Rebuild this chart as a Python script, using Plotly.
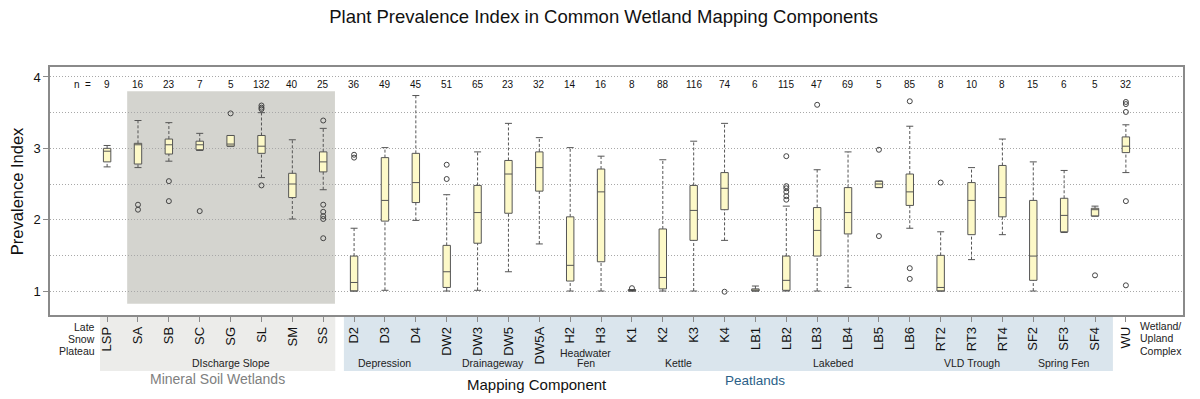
import plotly.graph_objects as go

# ---------------- data ----------------
categories = ["LSP", "SA", "SB", "SC", "SG", "SL", "SM", "SS",
              "D2", "D3", "D4", "DW2", "DW3", "DW5", "DW5A", "H2", "H3",
              "K1", "K2", "K3", "K4", "LB1", "LB2", "LB3", "LB4", "LB5", "LB6",
              "RT2", "RT3", "RT4", "SF2", "SF3", "SF4", "WU"]
n_counts = [9, 16, 23, 7, 5, 132, 40, 25,
            36, 49, 45, 51, 65, 23, 32, 14, 16,
            8, 88, 116, 74, 6, 115, 47, 69, 5, 85,
            8, 10, 8, 15, 6, 5, 32]
lower_whisker = [2.74, 2.73, 2.82, 2.97, 3.03, 2.59, 2.01, 2.42,
                 1.00, 1.01, 1.99, 1.00, 1.01, 1.27, 1.66, 1.00, 1.00,
                 1.00, 1.00, 1.00, 1.71, 1.00, 1.00, 1.00, 1.05, 2.45, 1.88,
                 1.00, 1.44, 1.79, 1.00, 1.82, 2.05, 2.66]
q1 = [2.81, 2.78, 2.92, 2.98, 3.03, 2.93, 2.31, 2.67,
      1.00, 1.98, 2.24, 1.05, 1.67, 2.09, 2.40, 1.14, 1.41,
      1.00, 1.03, 1.71, 2.14, 1.00, 1.01, 1.49, 1.80, 2.45, 2.20,
      1.00, 1.79, 2.04, 1.15, 1.83, 2.05, 2.94]
median = [2.96, 3.05, 3.05, 3.05, 3.06, 3.03, 2.50, 2.81,
          1.12, 2.27, 2.52, 1.27, 2.10, 2.64, 2.73, 1.36, 2.39,
          1.00, 1.19, 2.13, 2.44, 1.01, 1.15, 1.85, 2.10, 2.50, 2.39,
          1.05, 2.27, 2.31, 1.49, 2.06, 2.14, 3.03]
q3 = [3.00, 3.07, 3.13, 3.10, 3.18, 3.18, 2.65, 2.95,
      1.49, 2.87, 2.93, 1.64, 2.48, 2.83, 2.95, 2.04, 2.71,
      1.02, 1.87, 2.48, 2.66, 1.03, 1.49, 2.17, 2.45, 2.54, 2.64,
      1.50, 2.52, 2.76, 2.27, 2.30, 2.16, 3.16]
upper_whisker = [3.04, 3.39, 3.36, 3.21, 3.18, 3.50, 3.12, 3.28,
                 1.88, 3.01, 3.74, 2.35, 2.95, 3.35, 3.15, 3.01, 2.89,
                 1.02, 2.84, 3.10, 3.35, 1.07, 2.19, 2.70, 2.95, 2.54, 3.31,
                 1.83, 2.73, 3.13, 2.81, 2.69, 2.19, 3.33]
outliers = {
    "SA": [2.21, 2.14],
    "SB": [2.54, 2.26],
    "SC": [2.12],
    "SG": [3.49],
    "SL": [3.60, 3.57, 3.55, 2.48],
    "SS": [3.39, 2.21, 2.11, 2.05, 2.01, 1.74],
    "D2": [2.91, 2.87],
    "DW2": [2.77, 2.57],
    "K1": [1.04],
    "K4": [0.99],
    "LB2": [2.89, 2.47, 2.44, 2.39, 2.33, 2.28],
    "LB3": [3.61],
    "LB5": [2.98, 1.77],
    "LB6": [3.66, 1.32, 1.17],
    "RT2": [2.52],
    "SF4": [1.22],
    "WU": [3.65, 3.62, 3.51, 2.26, 1.08],
}
groups = [
    ("DIscharge Slope", ["SA", "SB", "SC", "SG", "SL", "SM", "SS"]),
    ("Depression", ["D2", "D3", "D4"]),
    ("Drainageway", ["DW2", "DW3", "DW5", "DW5A"]),
    ("Headwater<br>Fen", ["H2", "H3"]),
    ("Kettle", ["K1", "K2", "K3", "K4"]),
    ("Lakebed", ["LB1", "LB2", "LB3", "LB4", "LB5", "LB6"]),
    ("VLD Trough", ["RT2", "RT3", "RT4"]),
    ("Spring Fen", ["SF2", "SF3", "SF4"]),
]

# ---------------- styles ----------------
FONT = "Liberation Sans, Arial, sans-serif"
BOX_FILL = "#fdf9c8"
BOX_LINE = "#555555"
AX_LINE = "#8a8a8a"
GRID = "#a8a8a8"
SMALL = dict(size=10.5, color="#222", family=FONT)

fig = go.Figure()

# whiskers (dashed)
wx, wy = [], []
for c, lo, a, b, hi in zip(categories, lower_whisker, q1, q3, upper_whisker):
    wx += [c, c, None, c, c, None]
    wy += [b, hi, None, lo, a, None]
fig.add_trace(go.Scatter(x=wx, y=wy, mode="lines",
                         line=dict(color=BOX_LINE, width=1, dash="3px,2px"),
                         hoverinfo="skip", showlegend=False))

# whisker caps
fig.add_trace(go.Scatter(x=categories + categories, y=lower_whisker + upper_whisker,
                         mode="markers",
                         marker=dict(symbol="line-ew", size=5,
                                     line=dict(color=BOX_LINE, width=1)),
                         hoverinfo="skip", showlegend=False))

# boxes
fig.add_trace(go.Box(x=categories, q1=q1, median=median, q3=q3,
                     lowerfence=q1, upperfence=q3,
                     width=0.24, whiskerwidth=0, boxpoints=False,
                     fillcolor=BOX_FILL, line=dict(color=BOX_LINE, width=1),
                     hoverinfo="skip", showlegend=False))

# outliers
ox, oy = [], []
for c, vals in outliers.items():
    ox += [c] * len(vals)
    oy += vals
fig.add_trace(go.Scatter(x=ox, y=oy, mode="markers",
                         marker=dict(symbol="circle-open", size=5,
                                     color="#444444", line=dict(width=1)),
                         hoverinfo="skip", showlegend=False))

idx = {c: i for i, c in enumerate(categories)}

# shaded mineral-soil region inside the plot
fig.add_shape(type="rect", xref="x", yref="y", x0=0.65, x1=7.38, y0=0.82, y1=3.80,
              fillcolor="#d4d4cf", line=dict(width=0), layer="below")

# bands under the axis
fig.add_shape(type="rect", xref="x", yref="paper", x0=-0.23, x1=7.39, y0=-0.226, y1=0,
              fillcolor="#ececea", line=dict(width=0), layer="below")
fig.add_shape(type="rect", xref="x", yref="paper", x0=7.67, x1=32.58, y0=-0.226, y1=0,
              fillcolor="#dae5ed", line=dict(width=0), layer="below")

ann = []
# n = row
ann.append(dict(x=-0.79, y=3.90, xref="x", yref="y", text="n  =", showarrow=False,
                xanchor="center", yanchor="middle",
                font=dict(size=10, color="#111", family=FONT)))
for c, n in zip(categories, n_counts):
    ann.append(dict(x=idx[c], y=3.90, xref="x", yref="y", text=str(n), showarrow=False,
                    xanchor="center", yanchor="middle",
                    font=dict(size=10, color="#111", family=FONT)))

# group labels
for name, members in groups:
    xc = sum(idx[m] for m in members) / len(members)
    if "<br>" in name:
        top, bot = name.split("<br>")
        ann.append(dict(x=xc, y=-0.153, xref="x", yref="paper", text=top, showarrow=False,
                        xanchor="center", yanchor="middle", font=SMALL))
        ann.append(dict(x=xc, y=-0.194, xref="x", yref="paper", text=bot, showarrow=False,
                        xanchor="center", yanchor="middle", font=SMALL))
    else:
        ann.append(dict(x=xc, y=-0.194, xref="x", yref="paper", text=name, showarrow=False,
                        xanchor="center", yanchor="middle", font=SMALL))

for txt, yy in zip(["Late", "Snow", "Plateau"], [-0.048, -0.097, -0.145]):
    ann.append(dict(x=-0.32, y=yy, xref="x", yref="paper", text=txt, showarrow=False,
                    xanchor="right", yanchor="middle", font=SMALL))
for txt, yy in zip(["Wetland/", "Upland", "Complex"], [-0.044, -0.093, -0.145]):
    ann.append(dict(x=33.39, y=yy, xref="x", yref="paper", text=txt, showarrow=False,
                    xanchor="left", yanchor="middle", font=SMALL))

ann.append(dict(x=3.58, y=-0.258, xref="x", yref="paper", text="Mineral Soil Wetlands",
                showarrow=False, xanchor="center", yanchor="middle",
                font=dict(size=14, color="#808080", family=FONT)))
ann.append(dict(x=21.0, y=-0.266, xref="x", yref="paper", text="Peatlands",
                showarrow=False, xanchor="center", yanchor="middle",
                font=dict(size=13.5, color="#2b5f88", family=FONT)))
ann.append(dict(x=0.43, y=-0.282, xref="paper", yref="paper", text="Mapping Component",
                showarrow=False, xanchor="center", yanchor="middle",
                font=dict(size=15, color="#111", family=FONT)))
ann.append(dict(x=-0.029, y=0.5, xref="paper", yref="paper", text="Prevalence Index",
                textangle=-90, showarrow=False, xanchor="center", yanchor="middle",
                font=dict(size=16.5, color="#111", family=FONT)))

fig.update_layout(
    width=1200, height=399,
    margin=dict(l=50, r=17, t=67, b=84),
    paper_bgcolor="white", plot_bgcolor="white",
    font=dict(family=FONT, color="#111"),
    title=dict(text="Plant Prevalence Index in Common Wetland Mapping Components",
               x=0.503, xanchor="center", y=1 - 17 / 399, yanchor="middle",
               xref="container", yref="container",
               font=dict(size=18.5, color="#111", family=FONT)),
    annotations=ann,
    showlegend=False,
)
fig.update_xaxes(type="category", categoryorder="array", categoryarray=categories,
                 range=[-1.85, 34.85], showgrid=False, zeroline=False,
                 ticks="outside", ticklen=5, tickcolor=AX_LINE,
                 showline=True, linecolor=AX_LINE, linewidth=1.5, mirror=True,
                 tickangle=-90, tickfont=dict(size=13, color="#111", family=FONT))
fig.update_yaxes(range=[0.664, 4.14], tickvals=[1, 2, 3, 4], zeroline=False,
                 ticks="outside", ticklen=5, tickcolor=AX_LINE,
                 showline=True, linecolor=AX_LINE, linewidth=1.5, mirror=True,
                 showgrid=True, gridcolor=GRID, griddash="1px,2px", gridwidth=1,
                 minor=dict(tickvals=[1.5, 2.5, 3.5], showgrid=True, gridcolor=GRID,
                            griddash="1px,2px", gridwidth=1, ticks=""),
                 tickfont=dict(size=13, color="#111", family=FONT))

fig.write_html("out.html", config={"displayModeBar": False},
               post_script="document.body.style.margin='0';document.body.style.overflow='hidden';")
